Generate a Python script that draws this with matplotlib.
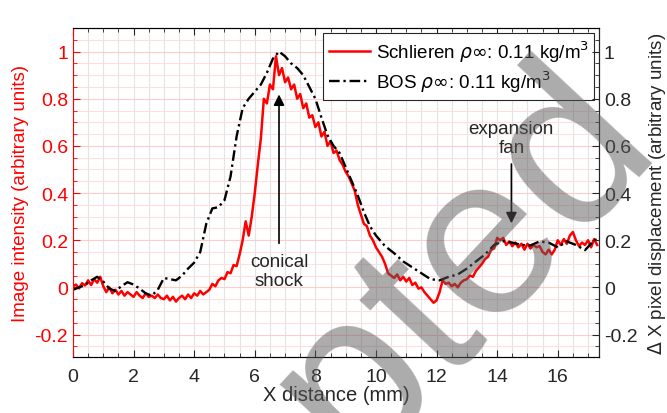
import numpy as np
import matplotlib
matplotlib.use("Agg")
import matplotlib.pyplot as plt
from matplotlib.ticker import MultipleLocator

plt.rcParams['font.family'] = ['Liberation Sans', 'DejaVu Sans']
plt.rcParams['mathtext.fontset'] = 'dejavusans'

# Schlieren trace (image intensity), sampled every 0.1 mm
schlieren_x = np.round(np.arange(0, 17.35, 0.1), 2)
schlieren_y = [
    0.005, 0.012, -0.004, 0.018, 0.008, 0.03, 0.01, 0.035, 0.02, 0.045,
    0.005, -0.02, 0.0, -0.025, -0.01, -0.03, -0.015, -0.035, -0.02, -0.03,
    -0.04, -0.02, -0.035, -0.045, -0.025, -0.04, -0.035, -0.045, -0.03, -0.045,
    -0.05, -0.035, -0.055, -0.04, -0.06, -0.045, -0.035, -0.05, -0.03, -0.045,
    -0.025, -0.035, -0.015, -0.03, -0.02, -0.01, 0.015, 0.005, 0.03, 0.04,
    0.035, 0.065, 0.06, 0.095, 0.09, 0.14, 0.2, 0.28, 0.22, 0.3,
    0.4, 0.52, 0.63, 0.8, 0.78, 0.86, 0.84, 0.98, 0.9, 0.93,
    0.87, 0.89, 0.84, 0.86, 0.8, 0.82, 0.76, 0.78, 0.72, 0.73,
    0.68, 0.7, 0.64, 0.66, 0.6, 0.62, 0.57, 0.58, 0.54, 0.52,
    0.49, 0.47, 0.44, 0.41, 0.35, 0.31, 0.27, 0.26, 0.22, 0.2,
    0.17, 0.15, 0.13, 0.1, 0.06, 0.05, 0.04, 0.055, 0.03, 0.045,
    0.025, 0.04, 0.01, 0.02, -0.005, 0.0, -0.02, -0.035, -0.05, -0.065,
    -0.055, -0.02, 0.03, 0.015, 0.02, 0.005, 0.015, 0.0, 0.02, 0.03,
    0.035, 0.05, 0.045, 0.07, 0.085, 0.1, 0.12, 0.13, 0.16, 0.165,
    0.21, 0.2, 0.21, 0.18, 0.195, 0.175, 0.19, 0.17, 0.185, 0.16,
    0.185, 0.165, 0.18, 0.17, 0.175, 0.15, 0.14, 0.16, 0.14, 0.16,
    0.2, 0.18, 0.205, 0.185, 0.22, 0.235, 0.2, 0.175, 0.19, 0.18,
    0.2, 0.17, 0.205, 0.18,
]

# BOS trace (pixel displacement)
bos_x = [0.0, 0.2, 0.4, 0.6, 0.8, 1.0, 1.2, 1.4, 1.6, 1.8, 2.0, 2.2, 2.4, 2.6,
         2.8, 3.0, 3.2, 3.4, 3.6, 3.8, 4.0, 4.2, 4.4, 4.6, 4.8, 5.0, 5.2, 5.4,
         5.6, 5.8, 6.0, 6.2, 6.4, 6.6, 6.8, 7.0, 7.2, 7.4, 7.6, 7.8, 8.0, 8.2,
         8.4, 8.6, 8.8, 9.0, 9.2, 9.4, 9.6, 9.8, 10.0, 10.3, 10.6, 10.9, 11.2,
         11.5, 11.8, 12.1, 12.4, 12.7, 13.0, 13.3, 13.6, 13.9, 14.2, 14.5, 14.8,
         15.1, 15.4, 15.7, 16.0, 16.3, 16.6, 16.9, 17.2, 17.36]
bos_y = [-0.01, 0.0, 0.01, 0.03, 0.045, 0.025, -0.005, -0.015, 0.005, 0.022,
         0.012, -0.005, -0.025, -0.035, -0.01, 0.04, 0.035, 0.03, 0.05, 0.08,
         0.105, 0.15, 0.27, 0.335, 0.34, 0.37, 0.47, 0.64, 0.76, 0.8, 0.83,
         0.86, 0.91, 0.97, 1.0, 0.98, 0.95, 0.93, 0.9, 0.85, 0.8, 0.72, 0.645,
         0.6, 0.57, 0.51, 0.45, 0.39, 0.32, 0.26, 0.22, 0.175, 0.145, 0.11,
         0.085, 0.06, 0.035, 0.03, 0.045, 0.055, 0.08, 0.11, 0.14, 0.18, 0.196,
         0.19, 0.18, 0.178, 0.195, 0.19, 0.17, 0.195, 0.18, 0.158, 0.2, 0.205]

y_ticks = [-0.2, 0, 0.2, 0.4, 0.6, 0.8, 1]
y_ticklabels = ['-0.2', '0', '0.2', '0.4', '0.6', '0.8', '1']

red = (1, 0, 0)

fig = plt.figure(figsize=(6.67, 4.14), dpi=100)
ax = fig.add_axes([0.1094, 0.1353, 0.7886, 0.7947])

ax.plot(schlieren_x, schlieren_y, color=red, lw=1.8,
        label=r'Schlieren $\rho\infty$: 0.11 kg/m$^3$')
ax.plot(bos_x, bos_y, color='k', lw=1.7, ls=(0, (4.5, 1.6, 1, 1.6)),
        label=r'BOS $\rho\infty$: 0.11 kg/m$^3$')

ax.set_xlim(0, 17.36)
ax.set_ylim(-0.295, 1.1)
ax.set_xticks(range(0, 17, 2))
ax.set_yticks(y_ticks)
ax.set_yticklabels(y_ticklabels)
ax.xaxis.set_minor_locator(MultipleLocator(0.5))
ax.yaxis.set_minor_locator(MultipleLocator(0.05))

ax.xaxis.grid(True, which='both', color='#e4e4e4', lw=0.8)
ax.yaxis.grid(True, which='major', color='#ffcccc', lw=0.8)
ax.yaxis.grid(True, which='minor', color='#ffdede', lw=0.8)
ax.set_axisbelow(True)

ax.tick_params(axis='x', which='both', direction='in', top=True,
               labelsize=14, colors='#262626', pad=8)
ax.tick_params(axis='x', which='major', length=5)
ax.tick_params(axis='x', which='minor', length=3)
ax.tick_params(axis='y', which='both', direction='in', colors=red,
               labelsize=14, right=False)
ax.tick_params(axis='y', which='major', length=5)
ax.tick_params(axis='y', which='minor', length=3)
ax.spines['left'].set_color(red)
for s in ['top', 'bottom']:
    ax.spines[s].set_color('#262626')

ax.set_xlabel('X distance (mm)', fontsize=14.5, color='#262626', labelpad=0)
ax.set_ylabel('Image intensity (arbitrary units)', fontsize=13.5,
              color=red, labelpad=4)

ax2 = ax.twinx()
ax2.set_ylim(ax.get_ylim())
ax2.set_yticks(y_ticks)
ax2.set_yticklabels(y_ticklabels)
ax2.yaxis.set_minor_locator(MultipleLocator(0.05))
ax2.tick_params(axis='y', which='both', direction='in', colors='#262626',
                labelsize=14)
ax2.tick_params(axis='y', which='major', length=5)
ax2.tick_params(axis='y', which='minor', length=3)
ax2.spines['right'].set_color('#262626')
ax2.spines['left'].set_visible(False)
ax2.set_ylabel(r'$\Delta$ X pixel displacement (arbitrary units)',
               fontsize=13.5, color='#262626', labelpad=6)

leg = ax.legend(loc='upper right', fontsize=13.5, handlelength=2.2,
                handletextpad=0.3, borderpad=0.3, labelspacing=0.25,
                borderaxespad=0.25, fancybox=False, framealpha=1,
                edgecolor='#262626')
leg.get_frame().set_linewidth(0.8)
leg.set_zorder(5)

ax.annotate('', xy=(6.8, 0.83), xytext=(6.8, 0.175),
            arrowprops=dict(arrowstyle='-|>', color='k', lw=1.2,
                            mutation_scale=16))
ax.text(6.8, 0.07, 'conical\nshock', ha='center', va='center',
        fontsize=13.5, color='#262626', linespacing=1.15)
ax.annotate('', xy=(14.47, 0.26), xytext=(14.47, 0.535),
            arrowprops=dict(arrowstyle='-|>', color='k', lw=1.2,
                            mutation_scale=16))
ax.text(14.47, 0.635, 'expansion\nfan', ha='center', va='center',
        fontsize=13.5, color='#262626', linespacing=1.15)

# watermark
fig.text(0.995, 0.635, 'Accepted', fontsize=165, rotation=47,
         rotation_mode='anchor', ha='right', va='baseline',
         color='0.35', alpha=0.5, zorder=20)

fig.savefig('out.png', dpi=100)
